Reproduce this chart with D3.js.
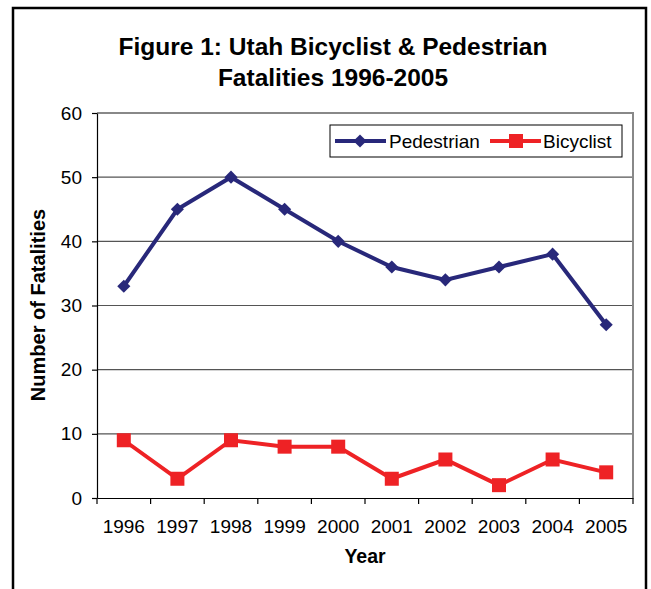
<!DOCTYPE html>
<html>
<head>
<meta charset="utf-8">
<script src="https://cdn.jsdelivr.net/npm/d3@7"></script>
<style>
  body { margin: 0; background: #fff; }
  svg { display: block; font-family: "Liberation Sans", Arial, sans-serif; }
  .axis text { font-size: 19px; fill: #000; }
  .axis path, .axis line { stroke: #000; stroke-width: 1.2px; }
</style>
</head>
<body>
<svg width="651" height="589"></svg>
<script>
const years = ['1996', '1997', '1998', '1999', '2000', '2001', '2002', '2003', '2004', '2005'];
const pedestrian = [33, 45, 50, 45, 40, 36, 34, 36, 38, 27];
const bicyclist = [9, 3, 9, 8, 8, 3, 6, 2, 6, 4];
const yTicks = [0, 10, 20, 30, 40, 50, 60];
const titleLines = ['Figure 1: Utah Bicyclist & Pedestrian', 'Fatalities 1996-2005'];

const navy = '#28287a';
const red = '#ee2225';

const svg = d3.select('svg');

// outer frame
svg.append('rect')
  .attr('x', 13).attr('y', 8)
  .attr('width', 633).attr('height', 600)
  .attr('fill', 'none').attr('stroke', '#000').attr('stroke-width', 2.5);

const margin = { top: 113, left: 97, right: 633, bottom: 498 };

const x = d3.scaleBand().domain(years).range([margin.left, margin.right]);
const y = d3.scaleLinear().domain([0, 60]).range([margin.bottom, margin.top]);

// gridlines
svg.append('g')
  .selectAll('line')
  .data(yTicks.filter(d => d > 0 && d < 60))
  .enter()
  .append('line')
  .attr('x1', margin.left).attr('x2', margin.right)
  .attr('y1', d => y(d)).attr('y2', d => y(d))
  .attr('stroke', '#555').attr('stroke-width', 1.2);

// plot border top / right
svg.append('path')
  .attr('d', `M${margin.left},${margin.top}H${margin.right}V${margin.bottom}`)
  .attr('fill', 'none').attr('stroke', '#888').attr('stroke-width', 2);

// axes
svg.append('g')
  .attr('class', 'axis')
  .attr('transform', `translate(${margin.left},0)`)
  .call(d3.axisLeft(y).tickValues(yTicks).tickSize(5).tickPadding(10).tickSizeOuter(0));

const xAxis = svg.append('g')
  .attr('class', 'axis')
  .attr('transform', `translate(0,${margin.bottom})`)
  .call(d3.axisBottom(x).tickSize(0).tickPadding(22).tickSizeOuter(0));

xAxis.selectAll('.tickmark')
  .data(years.concat(['end']))
  .enter()
  .append('line')
  .attr('x1', (d, i) => margin.left + i * x.step())
  .attr('x2', (d, i) => margin.left + i * x.step())
  .attr('y1', 0).attr('y2', 6)
  .attr('stroke', '#000').attr('stroke-width', 1.2);

const cx = d => x(d) + x.bandwidth() / 2;

const line = d3.line()
  .x((d, i) => cx(years[i]))
  .y(d => y(d));

// pedestrian series
svg.append('path')
  .datum(pedestrian)
  .attr('d', line)
  .attr('fill', 'none').attr('stroke', navy).attr('stroke-width', 4)
  .attr('stroke-linejoin', 'miter');

svg.append('g')
  .selectAll('path')
  .data(pedestrian)
  .enter()
  .append('path')
  .attr('d', d3.symbol().type(d3.symbolDiamond2).size(110))
  .attr('transform', (d, i) => `translate(${cx(years[i])},${y(d)})`)
  .attr('fill', navy);

// bicyclist series
svg.append('path')
  .datum(bicyclist)
  .attr('d', line)
  .attr('fill', 'none').attr('stroke', red).attr('stroke-width', 4)
  .attr('stroke-linejoin', 'miter');

svg.append('g')
  .selectAll('rect')
  .data(bicyclist)
  .enter()
  .append('rect')
  .attr('x', (d, i) => cx(years[i]) - 7)
  .attr('y', d => y(d) - 7)
  .attr('width', 14).attr('height', 14)
  .attr('fill', red);

// legend
const legend = svg.append('g').attr('transform', 'translate(330,125)');
legend.append('rect')
  .attr('width', 292).attr('height', 32)
  .attr('fill', '#fff').attr('stroke', '#000').attr('stroke-width', 1);

legend.append('line')
  .attr('x1', 5).attr('x2', 56).attr('y1', 16).attr('y2', 16)
  .attr('stroke', navy).attr('stroke-width', 4);
legend.append('path')
  .attr('d', d3.symbol().type(d3.symbolDiamond2).size(110))
  .attr('transform', 'translate(30,16)')
  .attr('fill', navy);
legend.append('text')
  .attr('x', 59).attr('y', 23)
  .style('font-size', '19px')
  .text('Pedestrian');

legend.append('line')
  .attr('x1', 160).attr('x2', 211).attr('y1', 16).attr('y2', 16)
  .attr('stroke', red).attr('stroke-width', 4);
legend.append('rect')
  .attr('x', 179).attr('y', 9).attr('width', 14).attr('height', 14)
  .attr('fill', red);
legend.append('text')
  .attr('x', 213).attr('y', 23)
  .style('font-size', '19px')
  .text('Bicyclist');

// title
svg.append('g')
  .selectAll('text')
  .data(titleLines)
  .enter()
  .append('text')
  .attr('x', 333)
  .attr('y', (d, i) => 55 + i * 31)
  .attr('text-anchor', 'middle')
  .style('font-size', '24.5px')
  .style('font-weight', 'bold')
  .text(d => d);

// axis titles
svg.append('text')
  .attr('transform', 'translate(45,305) rotate(-90)')
  .attr('text-anchor', 'middle')
  .style('font-size', '20px')
  .style('font-weight', 'bold')
  .text('Number of Fatalities');

svg.append('text')
  .attr('x', 365).attr('y', 563)
  .attr('text-anchor', 'middle')
  .style('font-size', '19.5px')
  .style('font-weight', 'bold')
  .text('Year');
</script>
</body>
</html>
